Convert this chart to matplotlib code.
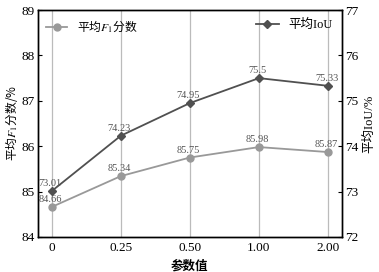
import matplotlib
matplotlib.use("Agg")
import matplotlib.pyplot as plt
from matplotlib.font_manager import FontProperties

plt.rcParams['font.family'] = ['Liberation Serif', 'Noto Sans CJK SC']
plt.rcParams['mathtext.fontset'] = 'stix'

params = ['0', '0.25', '0.50', '1.00', '2.00']
f1 = [84.66, 85.34, 85.75, 85.98, 85.87]
iou = [73.01, 74.23, 74.95, 75.5, 75.33]
f1_text = ['84.66', '85.34', '85.75', '85.98', '85.87']
iou_text = ['73.01', '74.23', '74.95', '75.5', '75.33']

x = range(len(params))
cjk = FontProperties(family='Noto Sans CJK SC', size=8.5)

fig = plt.figure(figsize=(3.79, 2.72), dpi=100)
ax1 = fig.add_axes([0.1, 0.129, 0.802, 0.834])
ax2 = ax1.twinx()

ax1.plot(x, f1, color='#999999', marker='o', markersize=5, lw=1.3, label='平均$F_1$分数')
ax2.plot(x, iou, color='#505050', marker='D', markersize=4.5, lw=1.3, label='平均IoU')

for i in x:
    ax1.annotate(f1_text[i], (i, f1[i]), xytext=(-1, 2), textcoords='offset points',
                 ha='center', va='bottom', fontsize=7.5, color='#555555')
    ax2.annotate(iou_text[i], (i, iou[i]), xytext=(-1, 2), textcoords='offset points',
                 ha='center', va='bottom', fontsize=7.5, color='#555555')

ax1.set_xlim(-0.2, 4.2)
ax1.set_ylim(84, 89)
ax2.set_ylim(72, 77)
ax1.set_xticks(list(x))
ax1.set_xticklabels(params)
ax1.set_yticks([84, 85, 86, 87, 88, 89])
ax2.set_yticks([72, 73, 74, 75, 76, 77])
ax1.xaxis.grid(True, color='#bbbbbb', lw=0.9)
ax1.set_axisbelow(True)

for a in (ax1, ax2):
    a.tick_params(direction='in', labelsize=9.5, length=3, pad=2.5)
    for s in a.spines.values():
        s.set_linewidth(1.0)
ax1.tick_params(axis='x', length=0, pad=4)

ax1.set_xlabel('参数值', fontsize=9, fontweight='bold')
ax1.set_ylabel('平均$F_1$分数/%', fontproperties=cjk, labelpad=1)
ax2.set_ylabel('平均IoU/%', fontsize=9, labelpad=3)

ax1.legend(loc='upper left', frameon=False, prop=cjk, handlelength=1.8, borderaxespad=0.3)
ax2.legend(loc='upper right', frameon=False, fontsize=9, handlelength=1.8, borderaxespad=0.3)

fig.savefig('out.png', dpi=100)
